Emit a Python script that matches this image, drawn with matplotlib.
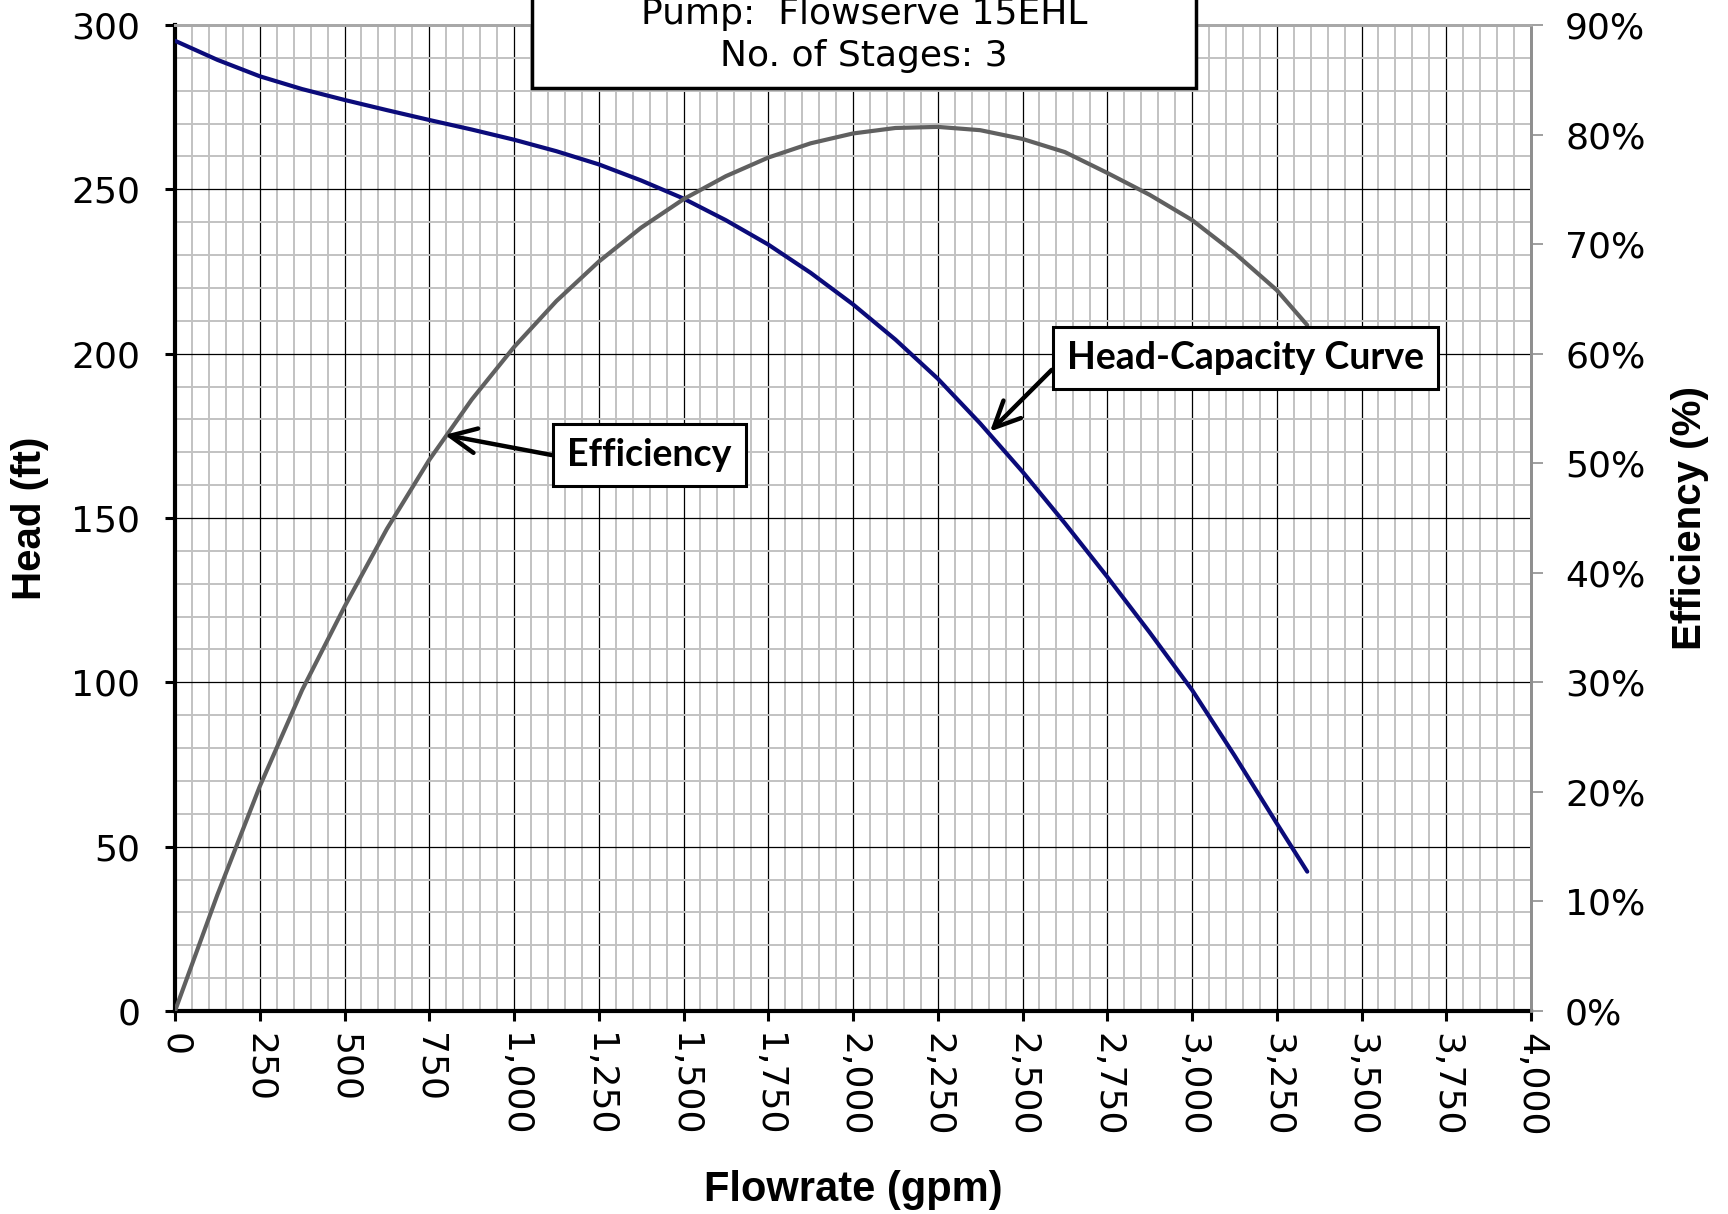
import matplotlib
matplotlib.use("Agg")
import matplotlib.pyplot as plt
import matplotlib.patches as patches
from matplotlib.ticker import MultipleLocator, FuncFormatter

# Pump curve (flow in gpm)
flow_gpm = [0, 125, 250, 375, 500, 625, 750, 875, 1000, 1125, 1250, 1375, 1500,
            1625, 1750, 1875, 2000, 2125, 2250, 2375, 2500, 2625, 2750, 2875,
            3000, 3125, 3250, 3340]
head_ft = [295.2, 289.4, 284.4, 280.5, 277.2, 274.1, 271.1, 268.2, 265.1, 261.6,
           257.6, 252.7, 247.2, 240.6, 233.2, 224.6, 215.0, 204.3, 192.4, 178.8,
           164.1, 148.4, 132.1, 115.2, 97.7, 77.8, 57.1, 42.4]
eff_pct = [0, 10.6, 20.5, 29.3, 36.9, 44.0, 50.3, 55.8, 60.6, 64.8, 68.4, 71.5,
           74.1, 76.2, 77.9, 79.2, 80.1, 80.6, 80.7, 80.4, 79.6, 78.4, 76.5, 74.5,
           72.2, 69.2, 65.8, 62.6]

title_lines = ["Pump:  Flowserve 15EHL", "No. of Stages: 3"]

tick_font = "DejaVu Sans"
label_font = "Liberation Sans"
note_font = "Lato"

fig = plt.figure(figsize=(17.28, 12.14), dpi=100)
ax = fig.add_axes([175 / 1728, 1 - 1011 / 1214, 1356 / 1728, 986 / 1214])
ax2 = ax.twinx()

# Axis limits and grid
ax.set_xlim(0, 4000)
ax.set_ylim(0, 300)
ax2.set_ylim(0, 90)
ax.xaxis.set_major_locator(MultipleLocator(250))
ax.xaxis.set_minor_locator(MultipleLocator(50))
ax.yaxis.set_major_locator(MultipleLocator(50))
ax.yaxis.set_minor_locator(MultipleLocator(10))
ax2.yaxis.set_major_locator(MultipleLocator(10))

ax.set_axisbelow(True)
ax.grid(which="minor", color="#c2c2c2", linewidth=1.4)
ax.grid(which="major", color="black", linewidth=0.9)

# Curves
ax.plot(flow_gpm, head_ft, color="#0b0b7a", linewidth=3.0,
        solid_capstyle="round", solid_joinstyle="round", zorder=3)
ax2.plot(flow_gpm, eff_pct, color="#606060", linewidth=3.0,
         solid_capstyle="round", solid_joinstyle="round", zorder=3)

# Spines
for side in ["left", "bottom"]:
    ax.spines[side].set_linewidth(3)
    ax.spines[side].set_color("black")
for a in [ax, ax2]:
    a.spines["right"].set_color("#8f8f8f")
    a.spines["right"].set_linewidth(2)
    a.spines["top"].set_color("#a8a8a8")
    a.spines["top"].set_linewidth(2)
ax2.spines["left"].set_visible(False)
ax2.spines["bottom"].set_visible(False)

# Ticks
ax.tick_params(axis="y", which="major", direction="out", length=7, width=2.2,
               pad=18, labelsize=26, colors="black")
ax.tick_params(axis="x", which="major", direction="out", length=7, width=2.2,
               pad=9, labelsize=26, labelrotation=-90)
ax.tick_params(which="minor", length=0)
ax2.tick_params(axis="y", direction="out", length=8.5, width=1.2, color="#8f8f8f",
                pad=16, labelsize=26, labelcolor="black")
for lab in ax.get_xticklabels() + ax.get_yticklabels() + ax2.get_yticklabels():
    lab.set_fontfamily(tick_font)

ax.xaxis.set_major_formatter(FuncFormatter(lambda v, p: f"{v:,.0f}"))
ax2.yaxis.set_major_formatter(FuncFormatter(lambda v, p: f"{v:.0f}%"))

ax.set_xlabel("Flowrate (gpm)", fontsize=30, fontweight="bold", family=label_font,
              va="center")
ax.set_ylabel("Head (ft)", fontsize=29, fontweight="bold", family=label_font,
              va="center")
ax2.set_ylabel("Efficiency (%)", fontsize=29, fontweight="bold", family=label_font,
               rotation=90, va="center")
ax.xaxis.set_label_coords(0.5, -0.1815)
ax.yaxis.set_label_coords(-0.107, 0.5)
ax2.yaxis.set_label_coords(1.117, 0.5)

# Callouts
arrow = dict(arrowstyle="->,head_length=0.7,head_width=0.33", color="black",
             linewidth=3.2, shrinkA=0, shrinkB=0)
box = dict(boxstyle="square,pad=0.38", facecolor="white", edgecolor="black", linewidth=2.2)
ax2.annotate("Efficiency", xy=(796, 175.3), xycoords=ax.transData,
             xytext=(1399, 169.1), textcoords=ax.transData,
             ha="center", va="center", fontsize=27, fontweight="bold", family=note_font,
             bbox=box, arrowprops=dict(arrow, relpos=(0, 0.42)), zorder=5)
ax2.annotate("Head-Capacity Curve", xy=(2404, 176.3), xycoords=ax.transData,
             xytext=(3158, 198.7), textcoords=ax.transData,
             ha="center", va="center", fontsize=27, fontweight="bold", family=note_font,
             bbox=box, arrowprops=dict(arrow, relpos=(0, 0.6)), zorder=5)

# Title box, cut off by the top of the figure as in the original
title_box = patches.Rectangle((532 / 1728, 1 - 88 / 1214), 664 / 1728, 0.2,
                              transform=fig.transFigure, facecolor="white",
                              edgecolor="black", linewidth=2.5, zorder=5)
fig.patches.append(title_box)
fig.text(864 / 1728, 1 - 14 / 1214, title_lines[0], ha="center", va="center",
         fontsize=26, family=tick_font, zorder=6)
fig.text(864 / 1728, 1 - 56 / 1214, title_lines[1], ha="center", va="center",
         fontsize=26, family=tick_font, zorder=6)

fig.savefig("out.png", dpi=100)
